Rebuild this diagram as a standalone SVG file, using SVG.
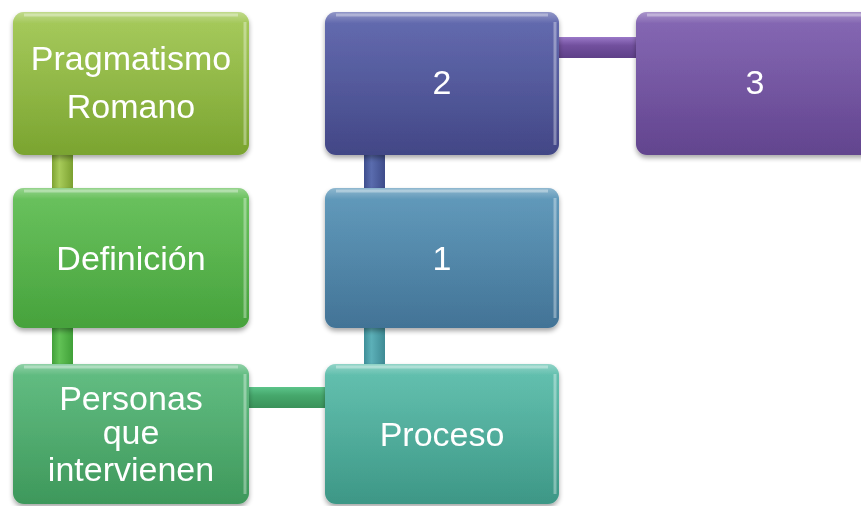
<svg xmlns="http://www.w3.org/2000/svg" width="861" height="506" viewBox="0 0 861 506">
<style>
.t{font-family:"Liberation Sans",Arial,sans-serif;font-size:34px;fill:#ffffff;text-anchor:middle}
.hl{fill:none;stroke:#ffffff;stroke-opacity:0.35;stroke-width:3}
.gl{fill:url(#gloss)}
</style>
<defs>
<filter id="sh" x="-10%" y="-10%" width="120%" height="125%">
<feGaussianBlur in="SourceAlpha" stdDeviation="2.5"/>
<feOffset dx="0" dy="3" result="b"/>
<feComponentTransfer><feFuncA type="linear" slope="0.35"/></feComponentTransfer>
<feMerge><feMergeNode/><feMergeNode in="SourceGraphic"/></feMerge>
</filter>
<linearGradient id="gloss" x1="0" y1="0" x2="0" y2="1">
<stop offset="0" stop-color="#fff" stop-opacity="0.35"/>
<stop offset="0.08" stop-color="#fff" stop-opacity="0.08"/>
<stop offset="1" stop-color="#fff" stop-opacity="0"/>
</linearGradient>
<linearGradient id="gA" x1="0" y1="0" x2="0" y2="1"><stop offset="0" stop-color="#9fc64e"/><stop offset="1" stop-color="#7aa430"/></linearGradient>
<linearGradient id="gB" x1="0" y1="0" x2="0" y2="1"><stop offset="0" stop-color="#5dbd50"/><stop offset="1" stop-color="#46a23c"/></linearGradient>
<linearGradient id="gC" x1="0" y1="0" x2="0" y2="1"><stop offset="0" stop-color="#55b878"/><stop offset="1" stop-color="#3e985b"/></linearGradient>
<linearGradient id="gD" x1="0" y1="0" x2="0" y2="1"><stop offset="0" stop-color="#56bca9"/><stop offset="1" stop-color="#3d9786"/></linearGradient>
<linearGradient id="gE" x1="0" y1="0" x2="0" y2="1"><stop offset="0" stop-color="#5492b6"/><stop offset="1" stop-color="#427396"/></linearGradient>
<linearGradient id="gF" x1="0" y1="0" x2="0" y2="1"><stop offset="0" stop-color="#565ea9"/><stop offset="1" stop-color="#424786"/></linearGradient>
<linearGradient id="gG" x1="0" y1="0" x2="0" y2="1"><stop offset="0" stop-color="#7b5bae"/><stop offset="1" stop-color="#62448e"/></linearGradient>
<linearGradient id="cv1" x1="0" y1="0" x2="1" y2="0"><stop offset="0" stop-color="#7ea332"/><stop offset="0.35" stop-color="#a8cc5a"/><stop offset="1" stop-color="#7ba030"/></linearGradient>
<linearGradient id="cv2" x1="0" y1="0" x2="1" y2="0"><stop offset="0" stop-color="#42a03a"/><stop offset="0.35" stop-color="#62c256"/><stop offset="1" stop-color="#40a038"/></linearGradient>
<linearGradient id="ch3" x1="0" y1="0" x2="0" y2="1"><stop offset="0" stop-color="#5cc48a"/><stop offset="0.4" stop-color="#46a86c"/><stop offset="1" stop-color="#3a925a"/></linearGradient>
<linearGradient id="cv4" x1="0" y1="0" x2="1" y2="0"><stop offset="0" stop-color="#3e8e98"/><stop offset="0.35" stop-color="#5cb0b8"/><stop offset="1" stop-color="#3e8a94"/></linearGradient>
<linearGradient id="cv5" x1="0" y1="0" x2="1" y2="0"><stop offset="0" stop-color="#3e4e8e"/><stop offset="0.35" stop-color="#5a6cae"/><stop offset="1" stop-color="#3e4c8a"/></linearGradient>
<linearGradient id="ch6" x1="0" y1="0" x2="0" y2="1"><stop offset="0" stop-color="#9a78c8"/><stop offset="0.4" stop-color="#72509e"/><stop offset="1" stop-color="#5e4088"/></linearGradient>
</defs>
<rect width="861" height="506" fill="#ffffff"/>
<g id="connectors">
<rect x="52" y="150" width="21" height="42" fill="url(#cv1)"/>
<rect x="52" y="324" width="21" height="43" fill="url(#cv2)"/>
<rect x="245" y="387" width="84" height="21" fill="url(#ch3)"/>
<rect x="364" y="324" width="21" height="43" fill="url(#cv4)"/>
<rect x="364" y="150" width="21" height="42" fill="url(#cv5)"/>
<rect x="555" y="37" width="85" height="21" fill="url(#ch6)"/>
</g>
<g id="n-pragmatismo" filter="url(#sh)">
<rect x="13" y="12" width="236" height="143" rx="11" fill="url(#gA)"/>
<rect x="13" y="12" width="236" height="143" rx="11" class="gl"/>
<path class="hl" d="M24 15 H238 M245 22 V145"/>
<text class="t" x="131" y="70">Pragmatismo</text>
<text class="t" x="131" y="118">Romano</text>
</g>
<g id="n-definicion" filter="url(#sh)">
<rect x="13" y="188" width="236" height="140" rx="11" fill="url(#gB)"/>
<rect x="13" y="188" width="236" height="140" rx="11" class="gl"/>
<path class="hl" d="M24 191 H238 M245 198 V318"/>
<text class="t" x="131" y="270">Definición</text>
</g>
<g id="n-personas" filter="url(#sh)">
<rect x="13" y="364" width="236" height="140" rx="11" fill="url(#gC)"/>
<rect x="13" y="364" width="236" height="140" rx="11" class="gl"/>
<path class="hl" d="M24 367 H238 M245 374 V494"/>
<text class="t" x="131" y="410">Personas</text>
<text class="t" x="131" y="444">que</text>
<text class="t" x="131" y="481">intervienen</text>
</g>
<g id="n-proceso" filter="url(#sh)">
<rect x="325" y="364" width="234" height="140" rx="11" fill="url(#gD)"/>
<rect x="325" y="364" width="234" height="140" rx="11" class="gl"/>
<path class="hl" d="M336 367 H548 M555 374 V494"/>
<text class="t" x="442" y="446">Proceso</text>
</g>
<g id="n-1" filter="url(#sh)">
<rect x="325" y="188" width="234" height="140" rx="11" fill="url(#gE)"/>
<rect x="325" y="188" width="234" height="140" rx="11" class="gl"/>
<path class="hl" d="M336 191 H548 M555 198 V318"/>
<text class="t" x="442" y="270">1</text>
</g>
<g id="n-2" filter="url(#sh)">
<rect x="325" y="12" width="234" height="143" rx="11" fill="url(#gF)"/>
<rect x="325" y="12" width="234" height="143" rx="11" class="gl"/>
<path class="hl" d="M336 15 H548 M555 22 V145"/>
<text class="t" x="442" y="94">2</text>
</g>
<g id="n-3" filter="url(#sh)">
<rect x="636" y="12" width="238" height="143" rx="11" fill="url(#gG)"/>
<rect x="636" y="12" width="238" height="143" rx="11" class="gl"/>
<path class="hl" d="M647 15 H861"/>
<text class="t" x="755" y="94">3</text>
</g>
</svg>
